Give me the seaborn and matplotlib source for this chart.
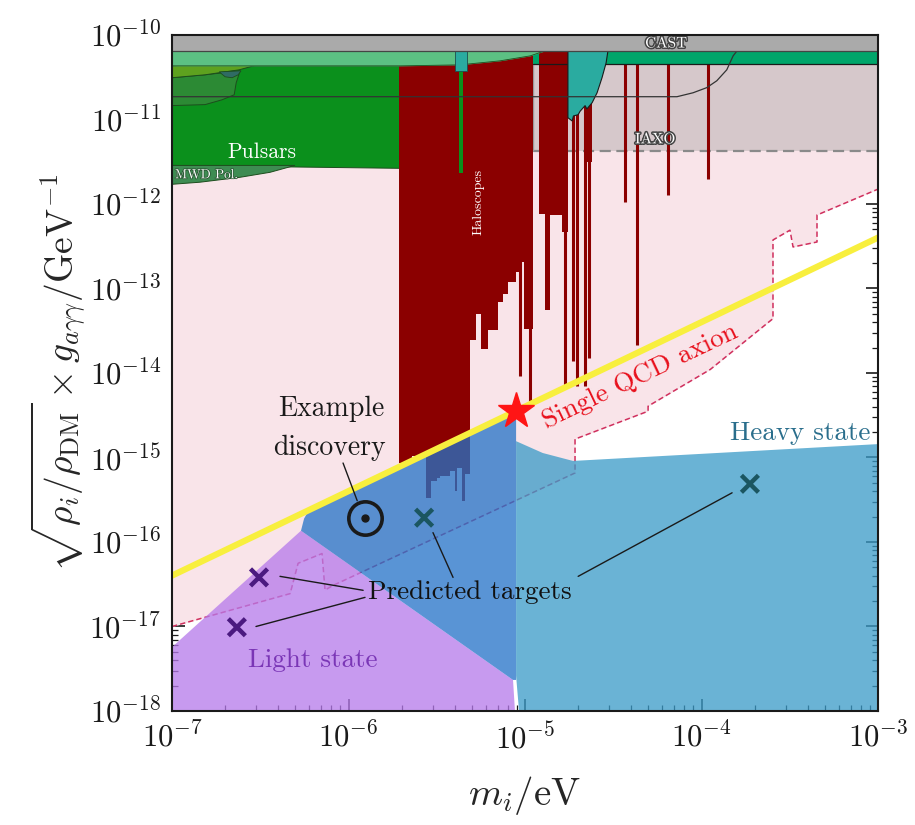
import numpy as np
import matplotlib
matplotlib.use("Agg")
import matplotlib.pyplot as plt
import matplotlib.patheffects as pe
import seaborn as sns

# ---------------- data (masses in eV, couplings in GeV^-1) ----------------
m_min, m_max = 1e-7, 1e-3
g_min, g_max = 1e-18, 1e-10

# QCD axion band centre line
qcd_m = [1e-7, 1e-3]
qcd_g = [4e-17, 4e-13]

# projected reach of a single QCD axion search (lower edge of the pink region)
reach_m = [1e-7, 4.67e-7, 5.18e-7, 7.08e-7, 7.36e-7, 8.17e-7, 1.92e-5, 1.92e-5,
           4.98e-5, 4.98e-5, 1.12e-4, 2.54e-4, 2.54e-4, 3.17e-4, 3.3e-4, 4.51e-4,
           4.51e-4, 1e-3]
reach_g = [1.0e-17, 2.45e-17, 5.6e-17, 7.3e-17, 2.7e-17, 3.06e-17, 6.56e-16, 1.65e-15,
           3.53e-15, 4.05e-15, 1.1e-14, 4.4e-14, 3.75e-13, 4.9e-13, 3.1e-13, 3.55e-13,
           7.4e-13, 1.5e-12]

# CAST helioscope limit
cast_g = 6.5e-11

# light-green astrophysical band below CAST
band_m = [1e-7, 1.96e-6, 4.27e-6, 7.2e-6, 1.07e-5, 1.3e-5]
band_g = [4.31e-11, 4.31e-11, 4.43e-11, 4.94e-11, 5.66e-11, 6.5e-11]

# olive / dark-green bounds at low mass
olive_m = [1e-7, 5.46e-7, 5.46e-7, 3.69e-7, 2.4e-7, 1.54e-7, 1e-7]
olive_g = [6.5e-11, 6.5e-11, 6.31e-11, 4.94e-11, 3.87e-11, 3.38e-11, 3.12e-11]
olive2_m = [1e-7, 2.56e-7, 2.4e-7, 1.69e-7, 1.3e-7, 1e-7]
olive2_g = [6.5e-11, 6.5e-11, 6.14e-11, 5.36e-11, 4.43e-11, 4.31e-11]
dkgreen_m = [1e-7, 1.54e-7, 2.43e-7, 2.31e-7, 2.25e-7, 1.92e-7, 1.54e-7, 1e-7]
dkgreen_g = [3.12e-11, 3.38e-11, 3.77e-11, 2.72e-11, 1.96e-11, 1.71e-11, 1.5e-11, 1.46e-11]
blob_m = [1.85e-7, 2.0e-7, 2.19e-7, 2.37e-7, 2.46e-7]
blob_g = [3.66e-11, 3.2e-11, 3.12e-11, 3.38e-11, 3.77e-11]

# pulsar polar-cap bound
pulsar_m = [1e-7, 2e-6, 2e-6, 1e-7]
pulsar_g = [4.31e-11, 4.31e-11, 2.64e-12, 2.86e-12]

# magnetic white dwarf polarisation bound
mwd_m = [1e-7, 4.97e-7, 3.59e-7, 2.43e-7, 1.44e-7, 1e-7]
mwd_g = [2.86e-12, 2.86e-12, 2.37e-12, 2.07e-12, 1.81e-12, 1.71e-12]

# IAXO projection
iaxo_m = [1.11e-5, 1e-3]
iaxo_g = [4.19e-12, 4.55e-11]

# helioscope band at high mass
hband_m = [1.11e-5, 1e-3]
hband_g = [4.55e-11, 6.5e-11]

# haloscope exclusions: bin edges and the lowest excluded coupling in each bin
halo_m = [1.93e-6, 2.29e-6, 2.75e-6, 2.93e-6, 3.17e-6, 3.30e-6, 3.76e-6, 4.01e-6,
          4.12e-6, 4.40e-6, 4.57e-6, 4.88e-6, 5.27e-6, 5.63e-6, 6.17e-6, 7.03e-6,
          7.50e-6, 8.01e-6, 8.89e-6, 9.37e-6, 9.87e-6, 1.11e-5, 1.20e-5, 1.30e-5,
          1.39e-5, 1.62e-5, 1.75e-5, 2.15e-5, 2.4e-5]
halo_g = [8.6e-16, 1.04e-15, 3.33e-16, 5.29e-16, 5.74e-16, 6.05e-16, 6.93e-16, 4.03e-16,
          7.52e-16, 3.08e-16, 6.39e-16, 2.49e-14, 5.04e-14, 1.90e-14, 3.27e-14, 6.97e-14,
          8.66e-14, 1.20e-13, 1.57e-13, 2.06e-13, 3.35e-14, 6.5e-11, 7.59e-13, 5.61e-14,
          7.38e-13, 4.66e-13, 6.5e-11, 3.10e-12, 3.10e-12]

# narrow haloscope lines
line_m = [9.37e-6, 1.07e-5, 1.69e-5, 1.87e-5, 1.97e-5, 2.19e-5, 2.31e-5, 3.69e-5,
          4.31e-5, 6.46e-5, 1.09e-4]
line_g = [9.1e-15, 4.63e-15, 6.59e-15, 1.37e-14, 6.95e-15, 6.95e-15, 1.49e-14, 1.05e-12,
          2.17e-14, 1.27e-12, 1.96e-12]

# cavity scan near 2e-5 eV
capp_m = [1.75e-5, 1.75e-5, 1.85e-5, 1.88e-5, 2.0e-5, 2.05e-5, 2.19e-5, 2.24e-5,
          2.4e-5, 2.56e-5, 2.73e-5, 2.88e-5, 2.95e-5, 2.95e-5]
capp_g = [6.5e-11, 1.05e-11, 9.6e-12, 1.1e-11, 1.14e-11, 1.25e-11, 1.46e-11, 1.33e-11,
          1.58e-11, 2.07e-11, 3.12e-11, 4.68e-11, 6.5e-11, 6.5e-11]

# narrow strips inside the haloscope block
strip1_m = [4.01e-6, 4.69e-6]
strip1_g = [3.77e-11, 6.5e-11]
strip2_m = [4.23e-6, 4.46e-6]
strip2_g = [2.31e-12, 4.31e-11]

# thin limit curve crossing the top of the plot
thin_m = [1e-7, 7.26e-5, 8.95e-5, 1.07e-4, 1.22e-4, 1.39e-4, 1.51e-4, 1.59e-4]
thin_g = [1.86e-11, 1.86e-11, 2.07e-11, 2.38e-11, 2.87e-11, 3.87e-11, 5.66e-11, 6.5e-11]

# parameter-space regions of the two mass eigenstates
light_m = [1e-7, 1e-7, 5.38e-7, 8.55e-6, 8.77e-6]
light_g = [1e-18, 5.7e-18, 1.36e-16, 2.33e-18, 1e-18]
mid_m = [5.38e-7, 5.6e-7, 5.97e-7, 8.9e-6, 8.9e-6, 8.55e-6]
mid_g = [1.36e-16, 1.89e-16, 2.39e-16, 3.56e-15, 2.33e-18, 2.33e-18]
heavy_m = [9.25e-6, 8.9e-6, 8.9e-6, 1.26e-5, 1.87e-5, 1e-3, 1e-3]
heavy_g = [1e-18, 2.6e-18, 1.56e-15, 1.13e-15, 9.1e-16, 1.44e-15, 1e-18]

# single QCD axion reference point and example signal
star_m, star_g = 8.9e-6, 3.56e-15
disc_m, disc_g = 1.24e-6, 1.94e-16

# predicted targets
tgt_m = [3.11e-7, 2.33e-7, 2.68e-6, 1.88e-4]
tgt_g = [3.81e-17, 9.8e-18, 1.94e-16, 4.88e-16]
tgt_state = ["light", "light", "heavy", "heavy"]

# ---------------- styling ----------------
sns.set_theme(style="ticks")
plt.rcParams["font.family"] = ["cmr10", "DejaVu Serif"]
plt.rcParams["mathtext.fontset"] = "cm"
plt.rcParams["axes.formatter.use_mathtext"] = True
plt.rcParams["axes.unicode_minus"] = False

PINK = "#f9e4e9"
RED = "#8b0000"

fig = plt.figure(figsize=(9.15, 8.25), dpi=100)
ax = fig.add_axes([0.188, 0.1382, 0.7716, 0.8194])
ax.set_xscale("log")
ax.set_yscale("log")
ax.set_xlim(m_min, m_max)
ax.set_ylim(g_min, g_max)

# pink region above the projected reach
ax.fill_between(reach_m, reach_g, g_max, color=PINK, lw=0, zorder=1)
ax.plot(reach_m, reach_g, color="#d0305e", lw=1.1, ls=(0, (3.5, 2)), zorder=2)

# IAXO
ax.fill_between(iaxo_m, iaxo_g[0], iaxo_g[1], color="#d6c8cb", lw=0, zorder=2)
ax.plot(iaxo_m, [iaxo_g[0]] * 2, color="#8a8a8a", lw=1.6, ls=(0, (5, 2.5)), zorder=2.1)
ax.vlines(iaxo_m[0], iaxo_g[0], iaxo_g[1], color="#9a9a9a", lw=1, zorder=2.1)

# haloscopes
ax.fill_between(halo_m, halo_g, cast_g, step="post", color=RED, lw=0, zorder=4)
ax.vlines(line_m, line_g, 4.55e-11, color=RED, lw=2.2, zorder=4)

# astrophysical bounds
ax.fill(pulsar_m, pulsar_g, color="#0b901c", ec="#1d4d1d", lw=0.7, zorder=3)
ax.fill(mwd_m, mwd_g, color="#3e8c52", ec="#1d4d1d", lw=0.7, zorder=3.1)
ax.fill(dkgreen_m, dkgreen_g, color="#2c8a34", ec="#1d4d1d", lw=0.7, zorder=3.2)
ax.fill(olive_m, olive_g, color="#5ea11f", ec="#1d4d1d", lw=0.7, zorder=3.3)
ax.fill(olive2_m, olive2_g, color="#6c9b22", ec="#1d4d1d", lw=0.7, zorder=3.4)
ax.fill(blob_m, blob_g, color="#2f6b63", ec="#1d4d1d", lw=0.6, zorder=3.5)
ax.fill_between(band_m, band_g, cast_g, color="#5cc083", lw=0, zorder=4.5)
ax.plot(band_m, band_g, color="#1d4d1d", lw=0.6, zorder=4.5)
ax.fill_between(hband_m, hband_g[0], hband_g[1], color="#00a56a", lw=0, zorder=3)
ax.plot(hband_m, [hband_g[0]] * 2, color="k", lw=0.9, zorder=4.6)
ax.fill(capp_m, capp_g, color="#2aaba0", ec="k", lw=0.8, zorder=4.6)
ax.fill_between(strip2_m, strip2_g[0], strip2_g[1], color="#0b901c", lw=0, zorder=4.7)
ax.fill_between(strip1_m, strip1_g[0], strip1_g[1], color="#2aaba0", lw=0.6, ec="#1d4d4d", zorder=4.8)
ax.plot(thin_m, thin_g, color="#333333", lw=0.9, zorder=4.9)
ax.fill_between([m_min, m_max], cast_g, g_max, color="#aaaaaa", lw=0, zorder=5)
ax.plot([m_min, m_max], [cast_g] * 2, color="#444444", lw=0.9, zorder=5)

# mass-eigenstate regions
ax.fill(light_m, light_g, color="#b67aeb", alpha=0.76, lw=0, zorder=5)
ax.fill(mid_m, mid_g, color="#2573c8", alpha=0.76, lw=0, zorder=5.1)
ax.fill(heavy_m, heavy_g, color="#3b9bc8", alpha=0.76, lw=0, zorder=5.1)

# QCD axion line
sns.lineplot(x=qcd_m, y=qcd_g, color="#f8ef3e", lw=4.5, ax=ax, zorder=6,
             sort=False, estimator=None)

# markers
ax.plot([star_m], [star_g], marker="*", ms=27, color="#ff1515", mec="#ff1515", zorder=8)
ax.plot([disc_m], [disc_g], marker="o", ms=24, mfc="none", mec="k", mew=2.6, zorder=8)
ax.plot([disc_m], [disc_g], marker="o", ms=5, color="k", zorder=8)
sns.scatterplot(x=tgt_m, y=tgt_g, hue=tgt_state,
                palette={"light": "#4b1a80", "heavy": "#1b5661"},
                marker="x", s=150, linewidth=3.2, legend=False, ax=ax, zorder=8)

# labels and annotations
serif = ["cmr10", "DejaVu Serif"]
ax.text(3.24e-7, 4.1e-12, "Pulsars", color="white", fontsize=15.5, ha="center",
        va="center", family=serif, zorder=9)
ax.text(1.04e-7, 2.19e-12, "MWD Pol.", color="white", fontsize=9.5, ha="left",
        va="center", family=serif, zorder=9,
        path_effects=[pe.withStroke(linewidth=1.2, foreground="#2b5a35")])
ax.text(5.42e-6, 1.07e-12, "Haloscopes", color="white", fontsize=10, ha="center",
        va="center", rotation=90, family=serif, zorder=9)
outline = [pe.withStroke(linewidth=2.2, foreground="#444444")]
ax.text(6.3e-5, 7.9e-11, "CAST", color="white", fontsize=11, ha="center",
        va="center", family=serif, zorder=9, path_effects=outline)
ax.text(5.46e-5, 5.8e-12, "IAXO", color="white", fontsize=11, ha="center",
        va="center", family=serif, zorder=9, path_effects=outline)

ax.text(7.96e-7, 3.8e-15, "Example", color="k", fontsize=20,
        ha="center", va="center", family=serif, zorder=9)
ax.text(7.76e-7, 1.29e-15, "discovery", color="k", fontsize=20,
        ha="center", va="center", family=serif, zorder=9)
ax.annotate("", xy=(1.12e-6, 3.08e-16), xytext=(9.31e-7, 8.6e-16),
            arrowprops=dict(arrowstyle="-", color="k", lw=1, shrinkA=0, shrinkB=0), zorder=9)

ax.text(4.88e-6, 2.54e-17, "Predicted targets", color="#111111", fontsize=19.5,
        ha="center", va="center", family=serif, zorder=9)
for (x0, y0), (x1, y1) in [((1.21e-6, 2.68e-17), (4.09e-7, 3.92e-17)),
                           ((1.24e-6, 2.21e-17), (2.99e-7, 1.0e-17)),
                           ((3.91e-6, 3.81e-17), (3.01e-6, 1.29e-16)),
                           ((2.0e-5, 3.92e-17), (1.49e-4, 3.82e-16))]:
    ax.annotate("", xy=(x1, y1), xytext=(x0, y0),
                arrowprops=dict(arrowstyle="-", color="k", lw=1, shrinkA=0, shrinkB=0),
                zorder=9)

ax.text(6.3e-7, 4.0e-18, "Light state", color="#7a36b6", fontsize=19.5,
        ha="center", va="center", family=serif, zorder=9)
ax.text(3.61e-4, 1.95e-15, "Heavy state", color="#2a6e8c", fontsize=19.5,
        ha="center", va="center", family=serif, zorder=9)
ax.text(4.48e-5, 9.1e-15, "Single QCD axion", color="#e8101c", fontsize=19.5,
        ha="center", va="center", rotation=25.5, rotation_mode="anchor",
        family=serif, zorder=9)

# axes cosmetics
ax.set_xlabel(r"$m_i/\mathrm{eV}$", fontsize=28, labelpad=14)
ax.set_ylabel(r"$\sqrt{\rho_i/\rho_\mathrm{DM}}\times g_{a\gamma\gamma}/\mathrm{GeV}^{-1}$",
              fontsize=27, labelpad=1)
ax.tick_params(which="both", direction="in", top=True, right=True, labelsize=22,
               colors="k")
ax.tick_params(which="major", length=9, width=1.2, pad=8)
ax.tick_params(which="minor", length=4.5, width=0.9)
ax.xaxis.set_major_locator(matplotlib.ticker.LogLocator(base=10, numticks=20))
ax.yaxis.set_major_locator(matplotlib.ticker.LogLocator(base=10, numticks=20))
ax.xaxis.set_minor_locator(matplotlib.ticker.LogLocator(base=10, subs=np.arange(2, 10), numticks=50))
ax.yaxis.set_minor_locator(matplotlib.ticker.LogLocator(base=10, subs=np.arange(2, 10), numticks=50))
ax.yaxis.set_minor_formatter(matplotlib.ticker.NullFormatter())
ax.xaxis.set_minor_formatter(matplotlib.ticker.NullFormatter())
for s in ax.spines.values():
    s.set_linewidth(1.5)
    s.set_color("k")
    s.set_zorder(10)

fig.savefig("out.png", dpi=100, facecolor="white")
